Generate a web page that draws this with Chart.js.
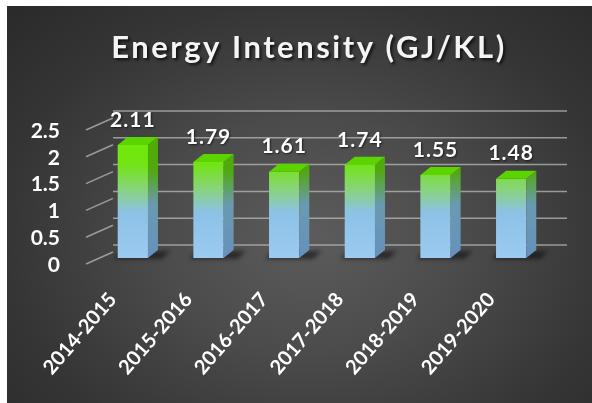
<!DOCTYPE html>
<html>
<head>
<meta charset="utf-8">
<script src="https://cdn.jsdelivr.net/npm/chart.js@4.4.1/dist/chart.umd.min.js"></script>
<style>
  html, body { margin: 0; padding: 0; background: #fff; }
  #wrap {
    position: absolute; left: 7px; top: 6px; width: 585px; height: 397px;
    background: radial-gradient(ellipse 75% 85% at 52% 58%, #5c5c5c 0%, #4b4b4b 35%, #353535 70%, #292929 100%);
  }
</style>
</head>
<body>
<div id="wrap"><canvas id="chart" width="585" height="397"></canvas></div>
<script>
const years = ["2014-2015", "2015-2016", "2016-2017", "2017-2018", "2018-2019", "2019-2020"];
const intensity = [2.11, 1.79, 1.61, 1.74, 1.55, 1.48];
const yTicks = [0, 0.5, 1, 1.5, 2, 2.5];
const chartTitle = "Energy Intensity (GJ/KL)";

const FONT = "Lato, 'Open Sans', sans-serif";
const DX = 10, DY = 8; // depth of the 3d bars

function frontFill(c) {
  const area = c.chart.chartArea;
  if (!area) return "#8ec4ec";
  const g = c.chart.ctx.createLinearGradient(0, area.top, 0, area.bottom);
  g.addColorStop(0, "#6ef000");
  g.addColorStop(0.3, "#72e414");
  g.addColorStop(0.48, "#88d478");
  g.addColorStop(0.66, "#8cc2e6");
  g.addColorStop(1, "#9ccaf0");
  return g;
}

// back wall grid, side diagonals, bar sides/tops, value labels, title
const threeD = {
  id: "threeD",
  beforeDatasetsDraw(chart) {
    const ctx = chart.ctx;
    const area = chart.chartArea;
    const y = chart.scales.y;
    ctx.save();
    ctx.strokeStyle = "rgba(185,185,185,0.75)";
    ctx.lineWidth = 1.5;
    yTicks.forEach(v => {
      const py = y.getPixelForValue(v);
      ctx.beginPath();
      ctx.moveTo(area.left + 18, py - 13);
      ctx.lineTo(area.right + 18, py - 13);
      ctx.stroke();
      ctx.beginPath();
      ctx.moveTo(area.left - 9, py + 6);
      ctx.lineTo(area.left + 18, py - 6);
      ctx.stroke();
    });
    // floor shadows
    const meta = chart.getDatasetMeta(0);
    meta.data.forEach(bar => {
      const half = bar.width / 2;
      ctx.fillStyle = "rgba(10,10,10,0.55)";
      ctx.filter = "blur(2px)";
      ctx.beginPath();
      ctx.moveTo(bar.x - half - 4, bar.base + 1);
      ctx.lineTo(bar.x + half + 14, bar.base + 1);
      ctx.lineTo(bar.x + half + 22, bar.base - 7);
      ctx.lineTo(bar.x - half + 4, bar.base - 7);
      ctx.closePath();
      ctx.fill();
    });
    ctx.restore();
  },
  afterDatasetsDraw(chart) {
    const ctx = chart.ctx;
    const area = chart.chartArea;
    const meta = chart.getDatasetMeta(0);
    const side = ctx.createLinearGradient(0, area.top, 0, area.bottom);
    side.addColorStop(0, "#4cb000");
    side.addColorStop(0.35, "#52a810");
    side.addColorStop(0.6, "#6a9ab0");
    side.addColorStop(1, "#6690bc");
    ctx.save();
    meta.data.forEach((bar, i) => {
      const half = bar.width / 2;
      const r = bar.x + half, l = bar.x - half;
      ctx.fillStyle = side;
      ctx.beginPath();
      ctx.moveTo(r, bar.y);
      ctx.lineTo(r + DX, bar.y - DY);
      ctx.lineTo(r + DX, bar.base - DY);
      ctx.lineTo(r, bar.base);
      ctx.closePath();
      ctx.fill();
      ctx.fillStyle = "#5cd400";
      ctx.beginPath();
      ctx.moveTo(l, bar.y);
      ctx.lineTo(l + DX, bar.y - DY);
      ctx.lineTo(r + DX, bar.y - DY);
      ctx.lineTo(r, bar.y);
      ctx.closePath();
      ctx.fill();

      ctx.font = "bold 21px " + FONT;
      ctx.letterSpacing = "1px";
      ctx.textAlign = "center";
      ctx.textBaseline = "middle";
      ctx.shadowColor = "rgba(0,0,0,0.6)";
      ctx.shadowOffsetX = 1;
      ctx.shadowOffsetY = 1;
      ctx.shadowBlur = 2;
      ctx.fillStyle = "#ffffff";
      ctx.fillText(intensity[i].toFixed(2), bar.x, bar.y - 25);
      ctx.shadowColor = "transparent";
    });
    ctx.restore();
  },
  afterDraw(chart) {
    const ctx = chart.ctx;
    ctx.save();
    ctx.font = "bold 31px " + FONT;
    ctx.letterSpacing = "2.5px";
    ctx.textAlign = "center";
    ctx.textBaseline = "middle";
    ctx.shadowColor = "rgba(0,0,0,0.7)";
    ctx.shadowOffsetX = 2;
    ctx.shadowOffsetY = 2;
    ctx.shadowBlur = 3;
    ctx.fillStyle = "#f4f4f4";
    ctx.fillText(chartTitle, 302, 42);
    ctx.restore();
  }
};

const ctx = document.getElementById("chart").getContext("2d");

window.myChart = new Chart(ctx, {
  type: "bar",
  data: {
    labels: years,
    datasets: [
      {
        label: "Energy Intensity",
        data: intensity,
        backgroundColor: frontFill,
        borderWidth: 0,
        barPercentage: 0.4,
        categoryPercentage: 1.0
      }
    ]
  },
  options: {
    responsive: false,
    animation: false,
    layout: {
      padding: { top: 118, right: 43, bottom: 0, left: 0 }
    },
    plugins: {
      legend: { display: false },
      title: { display: false },
      tooltip: { enabled: false }
    },
    scales: {
      x: {
        grid: { display: false, drawTicks: false },
        border: { display: false },
        ticks: {
          color: "#ffffff",
          font: { family: FONT, size: 20, weight: "bold" },
          maxRotation: 49,
          minRotation: 49,
          padding: 30,
          labelOffset: -20
        },
        afterCalculateLabelRotation(s) { s.labelRotation = 49; },
        afterFit(s) { s.height = 145; }
      },
      y: {
        min: 0,
        max: 2.5,
        grid: { display: false, drawTicks: false },
        border: { display: false },
        afterBuildTicks(s) { s.ticks = yTicks.map(v => ({ value: v })); },
        ticks: {
          autoSkip: false,
          color: "#ffffff",
          font: { family: FONT, size: 21, weight: "bold" },
          padding: 35,
          labelOffset: 7,
          callback: v => String(v)
        },
        afterFit(s) { s.width = 88; }
      }
    }
  },
  plugins: [threeD]
});
</script>
</body>
</html>
